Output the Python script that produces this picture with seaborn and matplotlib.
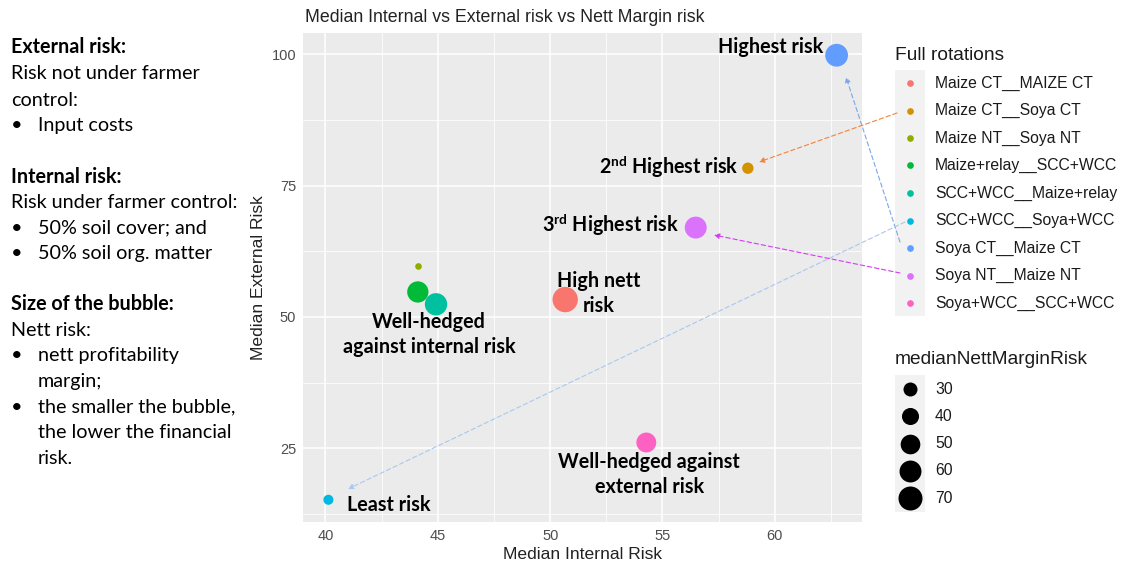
import numpy as np
import pandas as pd
import matplotlib
matplotlib.use("Agg")
import matplotlib.pyplot as plt
from matplotlib.lines import Line2D
from matplotlib.patches import Rectangle
from matplotlib.ticker import MultipleLocator
import seaborn as sns

# ---------------- data ----------------
rotations = ["Maize CT__MAIZE CT", "Maize CT__Soya CT", "Maize NT__Soya NT",
             "Maize+relay__SCC+WCC", "SCC+WCC__Maize+relay", "SCC+WCC__Soya+WCC",
             "Soya CT__Maize CT", "Soya NT__Maize NT", "Soya+WCC__SCC+WCC"]
internal_risk = [50.67, 58.80, 44.14, 44.11, 44.92, 40.13, 62.75, 56.48, 54.28]
external_risk = [53.3, 78.3, 59.6, 54.75, 52.4, 15.2, 99.8, 67.0, 26.1]
nett_margin_risk = [77, 23, 14, 57, 62, 20, 64, 60, 51]
palette = ["#F8766D", "#D39200", "#93AA00", "#00BA38", "#00C19F",
           "#00B9E3", "#619CFF", "#DB72FB", "#FF61C3"]
size_breaks = [30, 40, 50, 60, 70]
x_ticks = [40, 45, 50, 55, 60]
y_ticks = [25, 50, 75, 100]

df = pd.DataFrame({"rotation": rotations, "internal": internal_risk,
                   "external": external_risk, "nett": nett_margin_risk})

W, H = 1123, 561
def fx(x): return x / W
def fy(y): return 1 - y / H

sns.set_style("darkgrid", {"axes.facecolor": "#EBEBEB", "grid.color": "white"})
plt.rcParams["font.family"] = ["Liberation Sans", "DejaVu Sans"]
plt.rcParams["mathtext.fontset"] = "custom"
plt.rcParams["mathtext.rm"] = "Lato"
plt.rcParams["mathtext.bf"] = "Lato:bold"

fig = plt.figure(figsize=(W / 100, H / 100), dpi=100)
fig.patch.set_facecolor("white")
ax = fig.add_axes([fx(303), fy(522), (862 - 303) / W, (522 - 33) / H])

# marker area (pt^2): linear in value, anchored on legend breaks 30 and 70
A_LO = 196 * 0.5184
A_HI = 576 * 0.5184
def area_pt(v):
    return A_LO + (v - 30) / (70 - 30) * (A_HI - A_LO)

size_map = {v: area_pt(v) for v in sorted(set(nett_margin_risk))}

sns.scatterplot(data=df, x="internal", y="external", hue="rotation",
                hue_order=rotations, palette=palette, size="nett",
                sizes=size_map, linewidth=0,
                alpha=1, legend=False, ax=ax, zorder=3)

# ggplot-like expansion
xr = max(internal_risk) - min(internal_risk)
yr = max(external_risk) - min(external_risk)
ax.set_xlim(min(internal_risk) - 0.05 * xr, max(internal_risk) + 0.05 * xr)
ax.set_ylim(min(external_risk) - 0.05 * yr, max(external_risk) + 0.05 * yr)
ax.set_xticks(x_ticks)
ax.set_yticks(y_ticks)
ax.xaxis.set_minor_locator(MultipleLocator(2.5))
ax.yaxis.set_minor_locator(MultipleLocator(12.5))
ax.grid(which="major", color="white", linewidth=1.1)
ax.grid(which="minor", color="white", linewidth=0.55)
for s in ax.spines.values():
    s.set_visible(False)
ax.tick_params(which="major", length=3, width=0.9, color="#333333",
               labelcolor="#4D4D4D", labelsize=10.5, pad=2)
ax.tick_params(which="minor", length=0)
ax.set_xlabel("Median Internal Risk", fontsize=12.6, color="#222222", labelpad=3)
ax.set_ylabel("Median External Risk", fontsize=12.6, color="#222222", labelpad=4)

fig.text(fx(305), fy(17), "Median Internal vs External risk vs Nett Margin risk",
         ha="left", va="center", fontsize=12.8, color="#222222")

# ---------------- annotations ----------------
ann_font = ["Lato", "DejaVu Sans"]
ann_fs = 14.2
annotations = [
    ("Soya CT__Maize CT", "Highest risk", (-13, 8), "right"),
    ("Maize CT__Soya CT", "2$^{\\mathbf{nd}}$ Highest risk", (-9, 2), "right"),
    ("Soya NT__Maize NT", "3$^{\\mathbf{rd}}$ Highest risk", (-17, 3), "right"),
    ("Maize CT__MAIZE CT", "High nett\nrisk", (33, 6), "center"),
    ("SCC+WCC__Maize+relay", "Well-hedged\nagainst internal risk", (-7, -30), "center"),
    ("Soya+WCC__SCC+WCC", "Well-hedged against\nexternal risk", (3, -32), "center"),
    ("SCC+WCC__Soya+WCC", "Least risk", (19, -5), "left"),
]
for rot, txt, (dx, dy), ha in annotations:
    r = df[df.rotation == rot].iloc[0]
    ax.annotate(txt, xy=(r.internal, r.external), xytext=(dx, dy),
                textcoords="offset pixels", ha=ha, va="center",
                fontsize=ann_fs, fontweight="bold", family=ann_font,
                color="black", linespacing=1.3, zorder=5,
                multialignment="center")

# ---------------- arrows from legend keys ----------------
arrows = [
    ("Maize CT__Soya CT", "#F4823B", (897, 113), (759, 162)),
    ("Soya CT__Maize CT", "#7FA6E6", (900, 242), (846, 77)),
    ("SCC+WCC__Soya+WCC", "#A9C8F0", (905, 222), (348, 489)),
    ("Soya NT__Maize NT", "#D43CF5", (900, 273), (714, 235)),
]
for rot, col, start, tip in arrows:
    ax.annotate("", xy=(fx(tip[0]), fy(tip[1])), xycoords="figure fraction",
                xytext=(fx(start[0]), fy(start[1])), textcoords="figure fraction",
                arrowprops=dict(arrowstyle="-|>", color=col, lw=0.8,
                                linestyle=(0, (4, 2.5)), mutation_scale=8,
                                shrinkA=0, shrinkB=0), annotation_clip=False,
                zorder=6)

# ---------------- legends ----------------
leg_font = ["Liberation Sans", "DejaVu Sans"]
fig.text(fx(895), fy(55), "Full rotations", ha="left", va="center",
         fontsize=13.8, color="#1a1a1a", family=leg_font)
fig.add_artist(Rectangle((fx(895), fy(316)), 30 / W, (316 - 70) / H,
                         transform=fig.transFigure, facecolor="#F2F2F2",
                         edgecolor="none", zorder=0))
for i, (name, col) in enumerate(zip(rotations, palette)):
    y = 83 + i * 27.5
    fig.add_artist(Line2D([fx(910)], [fy(y)], marker="o", markersize=6.7 * 0.72,
                          color=col, linestyle="none", markeredgewidth=0,
                          transform=fig.transFigure))
    fig.text(fx(935), fy(y), name, ha="left", va="center", fontsize=11.3,
             color="#1a1a1a", family=leg_font)

fig.text(fx(895), fy(359), "medianNettMarginRisk", ha="left", va="center",
         fontsize=13.8, color="#1a1a1a", family=leg_font)
fig.add_artist(Rectangle((fx(895), fy(512)), 30 / W, (512 - 375) / H,
                         transform=fig.transFigure, facecolor="#F2F2F2",
                         edgecolor="none", zorder=0))
for i, v in enumerate(size_breaks):
    y = 389 + i * 27.3
    fig.add_artist(Line2D([fx(910)], [fy(y)], marker="o",
                          markersize=np.sqrt(area_pt(v)),
                          color="black", linestyle="none", markeredgewidth=0,
                          transform=fig.transFigure))
    fig.text(fx(935), fy(y), str(v), ha="left", va="center", fontsize=11.3,
             color="#1a1a1a", family=leg_font)

# ---------------- left explanatory text ----------------
side_font = ["Lato", "DejaVu Sans"]
side_fs = 14.2
side_lines = [
    (47, None, "External risk:", True),
    (74, None, "Risk not under farmer", False),
    (100, None, "control:", False),
    (126, "•", "Input costs", False),
    (177, None, "Internal risk:", True),
    (203, None, "Risk under farmer control:", False),
    (228, "•", "50% soil cover; and", False),
    (253, "•", "50% soil org. matter", False),
    (304, None, "Size of the bubble:", True),
    (330, None, "Nett risk:", False),
    (356, "•", "nett profitability", False),
    (381, "", "margin;", False),
    (407, "•", "the smaller the bubble,", False),
    (433, "", "the lower the financial", False),
    (459, "", "risk.", False),
]
for y, bullet, txt, bold in side_lines:
    if bullet is None:
        fig.text(fx(11), fy(y), txt, ha="left", va="center", fontsize=side_fs,
                 fontweight="bold" if bold else "normal", family=side_font,
                 color="black")
    else:
        if bullet:
            fig.text(fx(11), fy(y), bullet, ha="left", va="center",
                     fontsize=side_fs, family=side_font, color="black")
        fig.text(fx(38), fy(y), txt, ha="left", va="center", fontsize=side_fs,
                 family=side_font, color="black")

fig.savefig("out.png", dpi=100, facecolor="white")
